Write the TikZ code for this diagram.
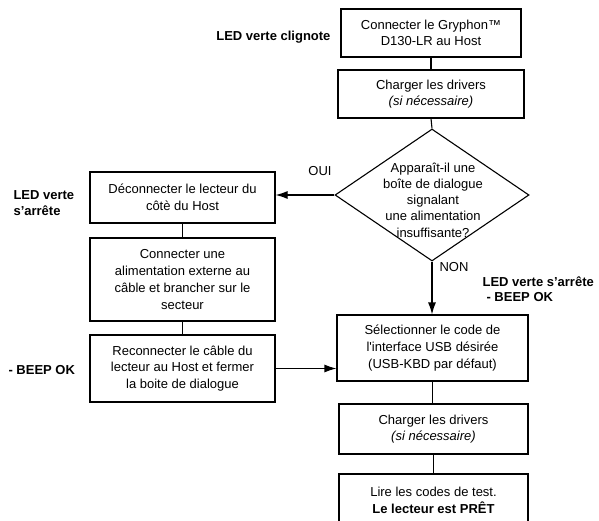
\documentclass[tikz,border=0pt]{standalone}
\usepackage{fontspec}
\setmainfont{Liberation Sans}
\usetikzlibrary{shapes.geometric,arrows.meta}
\begin{document}
\begin{tikzpicture}[x=1pt,y=-1pt, line width=1.1pt,
  box/.style={draw, align=center, font=\fontsize{13}{16.7}\selectfont, inner sep=0pt},
  lbl/.style={font=\bfseries\fontsize{13}{16}\selectfont, inner sep=0pt, align=left},
  txt/.style={font=\fontsize{13}{16}\selectfont, inner sep=0pt},
  arr/.style={-{Latex[length=12pt,width=8pt]}}]
\useasboundingbox (0,0) rectangle (599,521);
\clip (0,0) rectangle (599,521);
% right column
\node[box, minimum width=180pt, minimum height=48pt] (b1) at (431,33) {Connecter le Gryphon™\\D130-LR au Host};
\node[box, minimum width=186pt, minimum height=48pt] (b2) at (431,94) {Charger les drivers\\\textit{(si nécessaire)}};
\node[draw, diamond, minimum width=194pt, minimum height=132pt, inner sep=0pt] (dia) at (432,195) {};
\node[txt, align=center, font=\fontsize{13}{16.3}\selectfont] (diat) at (433,200) {Apparaît-il une\\boîte de dialogue\\signalant\\une alimentation\\insuffisante?};
\node[box, minimum width=191pt, minimum height=66pt] (sel) at (432.5,348) {Sélectionner le code de\\l\textquotesingle interface USB désirée\\(USB-KBD par défaut)};
\node[box, minimum width=189pt, minimum height=50pt] (ch2) at (433.5,429) {Charger les drivers\\\textit{(si nécessaire)}};
\node[box, minimum width=189pt, minimum height=52pt] (lire) at (433.5,500) {Lire les codes de test.\\\textbf{Le lecteur est PRÊT}};
% left column
\node[box, minimum width=185pt, minimum height=51pt] (d1) at (182.5,197.5) {Déconnecter le lecteur du\\côtè du Host};
\node[box, minimum width=185pt, minimum height=83pt] (d2) at (182.5,279.5) {Connecter une\\alimentation externe au\\câble et brancher sur le\\secteur};
\node[box, minimum width=185pt, minimum height=67pt] (d3) at (182.5,368.5) {Reconnecter le câble du\\lecteur au Host et fermer\\la boite de dialogue};
% connectors
\draw (b1.south) -- (b2.north);
\draw (b2.south) -- (dia.north);
\draw[arr] (dia.west) -- (dia.west -| d1.east);
\draw[arr] (dia.south) -- (dia.south |- sel.north);
\draw (d1.south) -- (d2.north);
\draw (d2.south) -- (d3.north);
\draw[arr] (d3.east) -- (d3.east -| sel.west);
\draw (sel.south) -- (sel.south |- ch2.north);
\draw (ch2.south) -- (ch2.south |- lire.north);
% labels
\node[lbl, anchor=east] (l1) at (331,37) {LED verte clignote};
\node[txt] (oui) at (320,171) {OUI};
\node[txt, anchor=west] (non) at (439,267) {NON};
\node[lbl, anchor=west] (l2a) at (482,282) {LED verte s’arrête};
\node[lbl, anchor=west] (l2b) at (486,297) {- BEEP OK};
\node[lbl, anchor=west] (l3) at (13,203) {LED verte\\s’arrête};
\node[lbl, anchor=west] (l4) at (8,370) {- BEEP OK};
\end{tikzpicture}
\end{document}
